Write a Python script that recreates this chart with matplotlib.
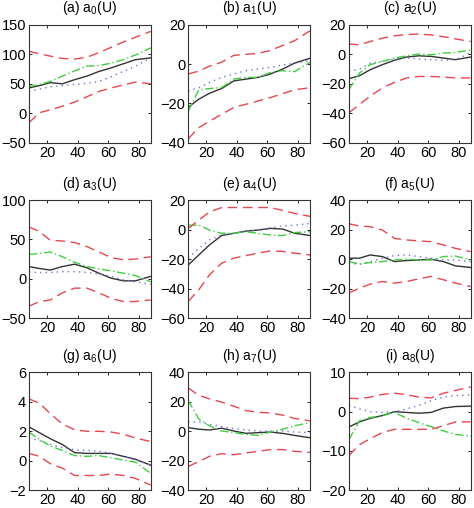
import numpy as np
import matplotlib
matplotlib.use('Agg')
import matplotlib.pyplot as plt

plt.rcParams['font.family'] = ['Liberation Sans', 'DejaVu Sans']
plt.rcParams['mathtext.fontset'] = 'custom'
plt.rcParams['mathtext.rm'] = 'Liberation Sans'
plt.rcParams['mathtext.it'] = 'Liberation Sans:italic'

#  Common abscissa (U)
u = [8, 15, 22, 30, 38, 46, 54, 62, 70, 78, 88]

titles = ['(a) a$_\\mathrm{0}$(U)', '(b) a$_\\mathrm{1}$(U)', '(c) a$_\\mathrm{2}$(U)',
          '(d) a$_\\mathrm{3}$(U)', '(e) a$_\\mathrm{4}$(U)', '(f) a$_\\mathrm{5}$(U)',
          '(g) a$_\\mathrm{6}$(U)', '(h) a$_\\mathrm{7}$(U)', '(i) a$_\\mathrm{8}$(U)']

#  Estimate (solid black)
est_a = [43, 47, 52, 50, 57, 63, 71, 77, 84, 91, 94]
est_b = [-22, -17.8, -14.8, -12.4, -8.5, -7.6, -6.7, -5, -2.5, 0.6, 3]
est_c = [-16.5, -14.5, -10.4, -7, -4, -1.8, -1, -1.4, -2.5, -3.6, -1.8]
est_d = [15.5, 13, 11, 15.5, 18.5, 14, 7, 0.7, -2.7, -2.7, 3]
est_e = [-24, -17.2, -10.4, -4, -2.5, -1, -0.3, 0.8, 0.4, -2.5, -4]
est_f = [0.6, 0.6, 2.8, 1.7, -1.7, -1, -0.6, -0.1, -1.7, -4.6, -5.7]
est_g = [2.3, 1.9, 1.5, 1.1, 0.55, 0.5, 0.5, 0.5, 0.3, 0.1, -0.3]
est_h = [2.5, 1.4, 0.9, 2.1, 0.2, -1.4, -0.9, -0.5, -1.4, -2.8, -4.4]
est_i = [-3.9, -2.6, -1.7, -1.0, 0.0, -0.2, -0.4, -0.2, 0.9, 1.3, 1.4]

#  Blue dotted
dot_a = [37, 41, 45, 47, 49, 51, 54, 62, 71, 80, 94]
dot_b = [-13.6, -12, -9.3, -6.7, -5, -3.3, -2.5, -1.6, -0.4, 0.4, 1.8]
dot_c = [-11.5, -10, -6, -4.8, -3.2, -2.5, -3.2, -3.6, -4, -3.6, 1]
dot_d = [8.3, 8, 8, 9, 9, 8, 6, 3, -1.4, -4, -7]
dot_e = [-19.4, -12.7, -7, -3.6, -2.5, -1.4, -0.3, 1.3, 2.4, 3, 4.2]
dot_f = [-2.8, -3.5, -1.7, 0.6, 2.4, 2.8, 1.7, 0.6, -0.6, -0.6, -1.7]
dot_g = [1.55, 1.35, 1.1, 0.9, 0.75, 0.7, 0.65, 0.5, 0.3, 0.05, -0.3]
dot_h = [6.4, 6.4, 4.8, 3.2, 1.8, 0.9, 0.2, 0.2, 0.2, -0.5, -0.9]
dot_i = [1.6, 0.7, 0.0, -0.2, 0.0, 0.7, 1.6, 2.8, 3.7, 4.1, 4.3]

#  Green dash-dot
dd_a = [45, 49, 54, 63, 72, 80, 81, 85, 91, 99, 111]
dd_b = [-24, -13, -12.4, -11.9, -7.6, -6.7, -6.7, -4.2, -3.3, -3.8, 1]
dd_c = [-24, -12.7, -7, -4.8, -2.5, -1, 0.2, -0.3, 0.9, 1.3, 3]
dd_d = [31, 32, 34, 28, 21, 15.5, 12.5, 10, 7, 4, -4]
dd_e = [3, 3, -0.3, -2.5, -2.5, -1.4, -2.5, -3.7, -4, -2, -1.4]
dd_f = [-1.7, -3.3, -2.4, -1.7, -0.6, -0.1, -0.6, -0.6, 1.7, 2.1, -0.6]
dd_g = [1.95, 1.45, 1.0, 0.7, 0.35, 0.3, 0.35, 0.2, 0.05, -0.1, -0.85]
dd_h = [21, 8.3, 3.7, 0.2, -0.9, -2.1, -2.8, -0.5, 1.4, 3.7, 6]
dd_i = [-7.1, -2.3, -1.5, -1.0, -0.2, -1.7, -2.8, -3.8, -4.9, -5.8, -6.2]

#  Red dashed bounds
hi_a = [105, 101, 97, 93, 92, 95, 103, 112, 121, 129, 139]
hi_b = [-5, -3.5, -1, 1, 4.5, 5, 5.5, 7, 9.5, 12, 17]
hi_c = [7, 6.5, 8.7, 11, 12.6, 13.5, 13.7, 13.2, 12, 10.5, 8.7]
hi_d = [66, 60, 49, 48, 46, 41, 34, 27, 24, 25, 28]
hi_e = [0.8, 6.5, 12, 15, 15, 15, 15, 15, 13, 11, 9]
hi_f = [24, 22.4, 22, 19.7, 14, 13, 12.3, 11.8, 9.6, 7.3, 5]
hi_g = [4.2, 3.9, 3.2, 2.5, 2.1, 2.0, 2.0, 1.95, 1.8, 1.55, 1.3]
hi_h = [29.4, 24.4, 22, 19.8, 17, 14, 12.9, 12.4, 11, 8.7, 7.1]
hi_i = [3.4, 3.3, 3.7, 4.4, 4.7, 4.3, 3.7, 3.5, 4.7, 5.4, 6.3]

lo_a = [-16, 1, 6, 12, 19, 28, 37, 43, 48, 53, 50]
lo_b = [-38, -32.3, -29, -25.5, -22, -20.4, -18.7, -17, -15, -13, -12]
lo_c = [-39.7, -34, -28.4, -22.8, -19, -16, -15, -15, -15.4, -16, -16]
lo_d = [-35, -29, -27, -18, -12, -12, -18, -25, -29, -29, -27]
lo_e = [-48.7, -40.8, -30.7, -22.8, -19.4, -17.6, -16, -14.4, -14.8, -16, -17.2]
lo_f = [-23, -19.7, -17, -15.2, -16.3, -15.2, -13.4, -11.8, -14, -16.3, -18.6]
lo_g = [0.5, 0.3, -0.2, -0.5, -1.0, -1.0, -1.0, -0.9, -1.0, -1.2, -1.65]
lo_h = [-23.9, -20.5, -17, -15.2, -15.9, -14.7, -13.6, -12.4, -12.4, -13.6, -14.3]
lo_i = [-11.2, -8.4, -6.9, -5.3, -4.5, -4.5, -4.5, -4.5, -3.6, -2.6, -2.6]

yticks = [[-50, 0, 50, 100, 150], [-40, -20, 0, 20], [-60, -40, -20, 0, 20],
          [-50, 0, 50, 100], [-60, -40, -20, 0, 20], [-40, -20, 0, 20, 40],
          [-2, 0, 2, 4, 6], [-40, -20, 0, 20, 40], [-20, -10, 0, 10]]

est = [est_a, est_b, est_c, est_d, est_e, est_f, est_g, est_h, est_i]
dots = [dot_a, dot_b, dot_c, dot_d, dot_e, dot_f, dot_g, dot_h, dot_i]
dds = [dd_a, dd_b, dd_c, dd_d, dd_e, dd_f, dd_g, dd_h, dd_i]
his = [hi_a, hi_b, hi_c, hi_d, hi_e, hi_f, hi_g, hi_h, hi_i]
los = [lo_a, lo_b, lo_c, lo_d, lo_e, lo_f, lo_g, lo_h, lo_i]

fig = plt.figure(figsize=(4.74, 5.08), dpi=100)
lefts = [0.061, 0.397, 0.736]
bottoms = [0.719, 0.374, 0.035]
w, h = 0.257, 0.232

for k in range(9):
    r, c = divmod(k, 3)
    ax = fig.add_axes([lefts[c], bottoms[r], w, h])
    ax.plot(u, est[k], color='#333333', lw=1.0)
    ax.plot(u, dots[k], color='#6f74d8', lw=1.0, ls=(0, (1, 3)))
    ax.plot(u, dds[k], color='#3fcf3f', lw=1.0, ls=(0, (6, 2, 1, 2)))
    ax.plot(u, his[k], color='#e8474f', lw=1.0, ls=(0, (7, 4)))
    ax.plot(u, los[k], color='#e8474f', lw=1.0, ls=(0, (7, 4)))
    ax.set_xlim(8, 88)
    ax.set_ylim(yticks[k][0], yticks[k][-1])
    ax.set_xticks([20, 40, 60, 80])
    ax.set_yticks(yticks[k])
    ax.tick_params(direction='in', top=True, right=True, labelsize=10.5,
                   length=2.5, width=0.6, pad=2)
    for s in ax.spines.values():
        s.set_linewidth(0.8)
        s.set_color('#333333')
    ax.set_title(titles[k], fontsize=10, pad=9)

fig.savefig('out.png', dpi=100)
